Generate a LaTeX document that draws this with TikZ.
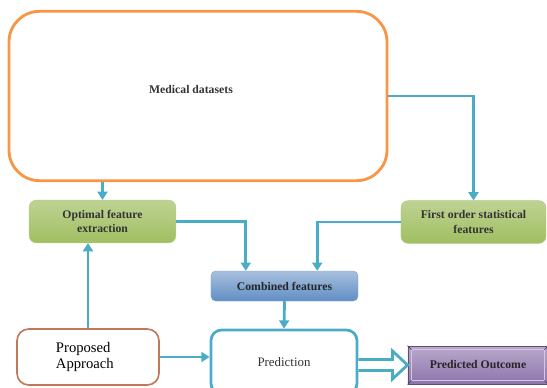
\documentclass[tikz,border=0pt]{standalone}
\usepackage{fontspec}
\setmainfont{Liberation Serif}
\usetikzlibrary{arrows.meta,positioning,calc}
\definecolor{orangeline}{RGB}{247,150,70}
\definecolor{aqua}{RGB}{75,172,198}
\definecolor{leaf}{RGB}{155,187,89}
\definecolor{steel}{RGB}{79,129,189}
\definecolor{plum}{RGB}{128,100,162}
\definecolor{clay}{RGB}{192,120,88}

\begin{document}
\begin{tikzpicture}[x=0.03cm, y=-0.03cm,
  font=\fontsize{10}{12}\selectfont\bfseries,
  greenbox/.style={draw=leaf!75!white, rounded corners=6pt, top color=leaf!65!white,
              bottom color=leaf!95!white, align=center, minimum width=4.4cm,
              minimum height=1.28cm, inner sep=2pt, text=black!80},
  bluebox/.style={draw=steel!70!white, rounded corners=4pt, top color=steel!50!white,
              bottom color=steel!90!white, minimum width=4.41cm, minimum height=0.9cm,
              text=black!85},
  outcomebox/.style={draw=plum!75!black, line width=0.8pt, top color=plum!55!white,
              bottom color=plum!90!white, minimum width=4.2cm, minimum height=1.14cm,
              text=black!85},
  link/.style={-{Triangle[length=7pt,width=8.5pt]}, line width=2.4pt, draw=aqua},
  hollow/.style={line width=2.4pt, draw=aqua, fill=white, line join=miter}]
  \clip (0,0) rectangle (547,388);
  \node[draw=orangeline, line width=2.4pt, rounded corners=26pt, minimum width=11.34cm,
        minimum height=5.08cm] (medical) at (198,96) {};
  \node[text=black!80] (medtext) at ($(medical.center)+(-7,-7)$) {Medical datasets};
  \node[greenbox] (optimal) at (102.5,221.5) {Optimal feature\\ extraction};
  \node[greenbox, minimum width=4.35cm] (firstorder) at (473.5,222) {First order statistical\\ features};
  \node[bluebox] (combined) at (284.5,286) {Combined features};
  \node[draw=aqua, line width=2.4pt, rounded corners=9pt, minimum width=4.38cm,
        minimum height=1.92cm, font=\fontsize{11}{13}\selectfont, text=black!80] (prediction) at (284,362) {Prediction};
  \node[draw=clay, line width=1.4pt, rounded corners=10pt, align=left, text width=1.92cm,
        inner xsep=1.17cm, minimum height=1.68cm, font=\fontsize{12.5}{13.5}\selectfont] (proposed) at (88,357) {Proposed\\ Approach};
  \node[outcomebox] (outcome) at (478,365) {Predicted Outcome};
  % bevel of the outcome box
  \draw[plum!35!white, line width=0.6pt] ($(outcome.north west)+(4,4)$) rectangle ($(outcome.south east)+(-4,-4)$);
  \draw[plum!60!black, line width=0.6pt] (outcome.north west) -- ($(outcome.north west)+(4,4)$)
    (outcome.south east) -- ($(outcome.south east)+(-4,-4)$)
    (outcome.north east) -- ($(outcome.north east)+(-4,4)$)
    (outcome.south west) -- ($(outcome.south west)+(4,-4)$);
  \coordinate (cinleft) at ($(combined.north west)+(35,0)$);
  \coordinate (cinright) at ($(combined.north east)+(-41,0)$);
  \draw[link] (medical.south -| optimal.north) -- (optimal.north);
  \draw[link] (medical.east) -| (firstorder.north);
  \draw[link] (optimal.east) -| (cinleft);
  \draw[link] (firstorder.west) -| (cinright);
  \draw[link] (combined.south) -- (prediction.north);
  \draw[link] (proposed.north) -- (proposed.north |- optimal.south);
  \draw[link] (proposed.east) -- (proposed.east -| prediction.west);
  % hollow arrow to the outcome
  \coordinate (tail) at (prediction.east |- outcome.west);
  \draw[hollow] ($(tail)+(0,-5.5)$) -- ($(outcome.west)+(-15,-5.5)$) -- ($(outcome.west)+(-15,-14)$)
    -- (outcome.west) -- ($(outcome.west)+(-15,14)$) -- ($(outcome.west)+(-15,5.5)$) -- ($(tail)+(0,5.5)$);
\end{tikzpicture}
\end{document}
